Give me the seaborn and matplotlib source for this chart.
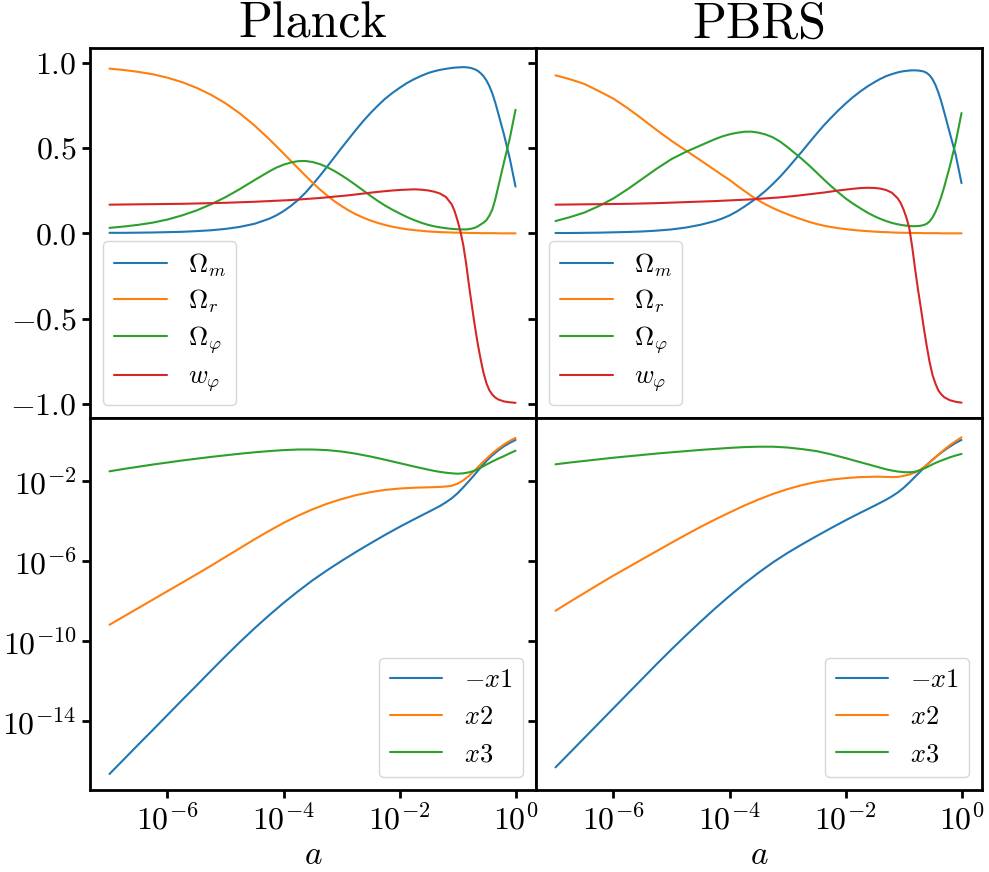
import numpy as np
import matplotlib
matplotlib.use("Agg")
import matplotlib.pyplot as plt
import matplotlib.ticker as mticker
import seaborn as sns

# ---------------- data ----------------
# x positions (log10 a) for the top row
log_a_top = [-7, -6.75, -6.5, -6.25, -6, -5.75, -5.5, -5.25, -5, -4.75, -4.5,
             -4.25, -4.125, -4, -3.875, -3.75, -3.625, -3.5, -3.375, -3.25, -3.125, -3,
             -2.875, -2.75, -2.625, -2.5, -2.375, -2.25, -2.125, -2, -1.875, -1.75, -1.625, -1.5,
             -1.4, -1.3, -1.2, -1.1, -1.05,
             -1.0, -0.95, -0.9, -0.85, -0.8, -0.75, -0.7, -0.65, -0.6, -0.55, -0.5, -0.45, -0.4, -0.35, -0.3,
             -0.2, -0.1, 0]
# x positions (log10 a) for the bottom row
log_a_bottom = [-7, -6.75, -6.5, -6.25, -6, -5.75, -5.5, -5.25, -5, -4.75, -4.5, -4.25,
                -4, -3.75, -3.5, -3.25, -3, -2.75, -2.5, -2.25, -2, -1.75, -1.5,
                -1.4, -1.3, -1.2, -1.1, -1.0, -0.9, -0.8, -0.7, -0.6, -0.5, -0.4,
                -0.3, -0.2, -0.1, 0]

titles = ["Planck", "PBRS"]
top_labels = [r"$\Omega_m$", r"$\Omega_r$", r"$\Omega_\varphi$", r"$w_\varphi$"]
bottom_labels = [r"$-x1$", r"$x2$", r"$x3$"]

planck_omega_m = [0.003, 0.003, 0.004, 0.005, 0.007, 0.009, 0.013, 0.018, 0.026, 0.038, 0.056,
                  0.085, 0.105, 0.130, 0.160, 0.195, 0.237, 0.285, 0.336, 0.390, 0.445, 0.500,
                  0.554, 0.607, 0.658, 0.705, 0.748, 0.788, 0.822, 0.852, 0.880, 0.903, 0.923, 0.940,
                  0.950, 0.958, 0.964, 0.969, 0.971,
                  0.972, 0.973, 0.974, 0.973, 0.971, 0.967, 0.961, 0.952, 0.938, 0.920, 0.895, 0.862, 0.820, 0.767, 0.706,
                  0.580, 0.440, 0.274]
planck_omega_r = [0.965, 0.957, 0.946, 0.932, 0.912, 0.886, 0.853, 0.812, 0.762, 0.702, 0.632,
                  0.553, 0.511, 0.468, 0.425, 0.382, 0.339, 0.297, 0.258, 0.222, 0.189, 0.160,
                  0.134, 0.111, 0.092, 0.075, 0.061, 0.049, 0.039, 0.031, 0.024, 0.019, 0.015, 0.011,
                  0.009, 0.007, 0.006, 0.005, 0.004,
                  0.004, 0.004, 0.003, 0.003, 0.002, 0.002, 0.002, 0.002, 0.001, 0.001, 0.001, 0.001, 0.001, 0.001, 0.0,
                  0.0, 0.0, 0.0]
planck_omega_phi = [0.032, 0.040, 0.050, 0.063, 0.081, 0.105, 0.134, 0.170, 0.212, 0.260, 0.312,
                    0.362, 0.385, 0.402, 0.415, 0.423, 0.424, 0.418, 0.406, 0.388, 0.366, 0.340,
                    0.312, 0.282, 0.251, 0.220, 0.190, 0.163, 0.139, 0.117, 0.096, 0.078, 0.062, 0.049,
                    0.041, 0.035, 0.030, 0.026, 0.025,
                    0.024, 0.023, 0.023, 0.023, 0.025, 0.028, 0.033, 0.041, 0.052, 0.063, 0.078, 0.104, 0.140, 0.198, 0.270,
                    0.415, 0.555, 0.724]
planck_w_phi = [0.168, 0.169, 0.170, 0.171, 0.172, 0.173, 0.175, 0.177, 0.179, 0.182, 0.185,
                0.189, 0.191, 0.193, 0.195, 0.198, 0.201, 0.204, 0.207, 0.211, 0.215, 0.219,
                0.223, 0.228, 0.233, 0.238, 0.243, 0.247, 0.251, 0.254, 0.256, 0.258, 0.256, 0.251,
                0.244, 0.233, 0.213, 0.170, 0.130,
                0.075, 0.012, -0.070, -0.180, -0.310, -0.430, -0.545, -0.650, -0.740, -0.820, -0.880, -0.920, -0.945, -0.962, -0.973,
                -0.985, -0.990, -0.993]

pbrs_omega_m = [0.002, 0.002, 0.003, 0.004, 0.006, 0.008, 0.011, 0.016, 0.023, 0.034, 0.050,
                0.072, 0.087, 0.105, 0.128, 0.155, 0.184, 0.215, 0.250, 0.290, 0.333, 0.380,
                0.430, 0.480, 0.532, 0.583, 0.632, 0.677, 0.720, 0.760, 0.797, 0.830, 0.860, 0.886,
                0.905, 0.921, 0.933, 0.943, 0.947,
                0.950, 0.952, 0.954, 0.955, 0.955, 0.954, 0.952, 0.948, 0.940, 0.926, 0.903, 0.870, 0.826, 0.773, 0.712,
                0.585, 0.460, 0.294]
pbrs_omega_r = [0.926, 0.903, 0.875, 0.833, 0.789, 0.732, 0.669, 0.604, 0.542, 0.485, 0.428,
                0.370, 0.341, 0.313, 0.281, 0.250, 0.220, 0.193, 0.169, 0.148, 0.129, 0.112,
                0.096, 0.081, 0.067, 0.055, 0.045, 0.037, 0.030, 0.025, 0.020, 0.016, 0.013, 0.010,
                0.008, 0.007, 0.005, 0.004, 0.004,
                0.003, 0.003, 0.003, 0.002, 0.002, 0.002, 0.002, 0.001, 0.001, 0.001, 0.001, 0.001, 0.001, 0.0, 0.0,
                0.0, 0.0, 0.0]
pbrs_omega_phi = [0.072, 0.095, 0.122, 0.160, 0.205, 0.260, 0.320, 0.380, 0.435, 0.478, 0.515,
                  0.552, 0.568, 0.580, 0.589, 0.595, 0.596, 0.590, 0.579, 0.562, 0.537, 0.505,
                  0.470, 0.435, 0.397, 0.357, 0.316, 0.277, 0.240, 0.205, 0.175, 0.148, 0.122, 0.100,
                  0.085, 0.072, 0.061, 0.053, 0.050,
                  0.047, 0.045, 0.043, 0.042, 0.042, 0.043, 0.045, 0.049, 0.056, 0.070, 0.093, 0.125, 0.165, 0.214, 0.270,
                  0.395, 0.535, 0.705]
pbrs_w_phi = [0.168, 0.169, 0.170, 0.171, 0.172, 0.173, 0.175, 0.177, 0.180, 0.183, 0.186,
              0.189, 0.191, 0.193, 0.195, 0.197, 0.199, 0.202, 0.205, 0.208, 0.211, 0.215,
              0.219, 0.224, 0.229, 0.234, 0.239, 0.245, 0.251, 0.256, 0.261, 0.265, 0.267, 0.266,
              0.262, 0.254, 0.238, 0.205, 0.178,
              0.140, 0.092, 0.030, -0.080, -0.210, -0.330, -0.440, -0.555, -0.660, -0.755, -0.830, -0.880, -0.920, -0.943, -0.960,
              -0.978, -0.987, -0.992]

# bottom row: log10 of the plotted quantities
planck_log_mx1 = [-16.63, -15.89, -15.15, -14.42, -13.68, -12.94, -12.21, -11.47, -10.74, -10.03, -9.35, -8.70,
                  -8.08, -7.50, -6.95, -6.45, -5.98, -5.53, -5.10, -4.68, -4.28, -3.90, -3.53,
                  -3.38, -3.23, -3.05, -2.85, -2.60, -2.30, -1.98, -1.65, -1.30, -0.98, -0.70,
                  -0.46, -0.25, -0.08, 0.07]
planck_log_x2 = [-9.17, -8.75, -8.33, -7.91, -7.49, -7.07, -6.65, -6.22, -5.78, -5.34, -4.90, -4.48,
                 -4.08, -3.72, -3.40, -3.12, -2.89, -2.69, -2.54, -2.43, -2.36, -2.32, -2.30,
                 -2.29, -2.28, -2.26, -2.22, -2.12, -1.95, -1.72, -1.45, -1.15, -0.87, -0.60,
                 -0.37, -0.16, 0.02, 0.17]
planck_log_x3 = [-1.50, -1.38, -1.27, -1.16, -1.06, -0.96, -0.87, -0.78, -0.70, -0.62, -0.55, -0.49,
                 -0.44, -0.41, -0.41, -0.44, -0.51, -0.62, -0.76, -0.92, -1.09, -1.26, -1.42,
                 -1.48, -1.53, -1.57, -1.60, -1.62, -1.60, -1.55, -1.46, -1.32, -1.16, -1.01,
                 -0.87, -0.74, -0.60, -0.47]

pbrs_log_mx1 = [-16.30, -15.56, -14.82, -14.08, -13.34, -12.60, -11.86, -11.12, -10.40, -9.70, -9.02, -8.36,
                -7.73, -7.13, -6.57, -6.05, -5.58, -5.15, -4.74, -4.34, -3.95, -3.58, -3.22,
                -3.07, -2.92, -2.75, -2.56, -2.33, -2.06, -1.77, -1.48, -1.18, -0.92, -0.68,
                -0.46, -0.26, -0.08, 0.07]
pbrs_log_x2 = [-8.47, -8.02, -7.58, -7.14, -6.71, -6.30, -5.89, -5.48, -5.07, -4.67, -4.28, -3.91,
               -3.56, -3.22, -2.91, -2.63, -2.39, -2.19, -2.03, -1.92, -1.84, -1.79, -1.77,
               -1.77, -1.78, -1.79, -1.78, -1.73, -1.66, -1.56, -1.40, -1.18, -0.93, -0.67,
               -0.42, -0.19, 0.01, 0.20]
pbrs_log_x3 = [-1.15, -1.06, -0.98, -0.90, -0.82, -0.75, -0.68, -0.61, -0.55, -0.49, -0.43, -0.38,
               -0.33, -0.29, -0.27, -0.27, -0.31, -0.39, -0.49, -0.65, -0.84, -1.04, -1.24,
               -1.32, -1.40, -1.46, -1.51, -1.54, -1.55, -1.52, -1.43, -1.30, -1.15, -1.02,
               -0.91, -0.80, -0.71, -0.63]

top_series = [[planck_omega_m, planck_omega_r, planck_omega_phi, planck_w_phi],
              [pbrs_omega_m, pbrs_omega_r, pbrs_omega_phi, pbrs_w_phi]]
bottom_series = [[planck_log_mx1, planck_log_x2, planck_log_x3],
                 [pbrs_log_mx1, pbrs_log_x2, pbrs_log_x3]]

x_ticks = [1e-6, 1e-4, 1e-2, 1e0]
top_yticks = [-1.0, -0.5, 0.0, 0.5, 1.0]
bottom_yticks = [1e-14, 1e-10, 1e-6, 1e-2]

# ---------------- style ----------------
sns.set_theme(style="ticks")
plt.rcParams["font.family"] = "serif"
plt.rcParams["font.serif"] = ["cmr10"]
plt.rcParams["mathtext.fontset"] = "cm"
plt.rcParams["axes.formatter.use_mathtext"] = True
plt.rcParams["axes.unicode_minus"] = True
for key in ["text.color", "axes.labelcolor", "xtick.color", "ytick.color", "axes.edgecolor"]:
    plt.rcParams[key] = "black"

colors = ["#1f77b4", "#ff7f0e", "#2ca02c", "#d62728"]

fig = plt.figure(figsize=(9.89, 8.72), dpi=100)
W, H = 989.0, 872.0
cols_x = [(90, 536), (536, 982)]
rows_y = [(48, 418), (418, 790)]

a_top = 10.0 ** np.array(log_a_top)
a_bottom = 10.0 ** np.array(log_a_bottom)

axes = [[None, None], [None, None]]
for r in range(2):
    for c in range(2):
        x0, x1 = cols_x[c]
        y0, y1 = rows_y[r]
        kw = {}
        if r == 1 or c == 1:
            kw["sharex"] = axes[0][0]
        if c == 1:
            kw["sharey"] = axes[r][0]
        ax = fig.add_axes([x0 / W, 1 - y1 / H, (x1 - x0) / W, (y1 - y0) / H], **kw)
        axes[r][c] = ax

for c in range(2):
    ax = axes[0][c]
    for lab, vals, col in zip(top_labels, top_series[c], colors):
        sns.lineplot(x=a_top, y=np.array(vals), ax=ax, color=col, label=lab,
                     linewidth=1.5, sort=False, errorbar=None)
    ax.legend(loc="lower left", fontsize=19, labelspacing=0.34)
    ax.set_title(titles[c], fontsize=36, pad=6, color="black")

    ax = axes[1][c]
    for lab, vals, col in zip(bottom_labels, bottom_series[c], colors[:3]):
        sns.lineplot(x=a_bottom, y=10.0 ** np.array(vals), ax=ax, color=col, label=lab,
                     linewidth=1.5, sort=False, errorbar=None)
    ax.legend(loc="lower right", fontsize=19)
    ax.set_xlabel(r"$a$", fontsize=24, color="black")

for r in range(2):
    for c in range(2):
        ax = axes[r][c]
        for s in ax.spines.values():
            s.set_linewidth(2)
            s.set_visible(True)
            s.set_color("black")
        ax.tick_params(axis="both", which="major", direction="out", length=6, width=2,
                       labelsize=23, color="black", labelcolor="black")
        ax.tick_params(axis="both", which="minor", length=0)
        ax.set_ylabel("")
        if r == 0:
            ax.tick_params(axis="x", bottom=False, labelbottom=False)
            ax.set_xlabel("")
        if c == 1:
            ax.tick_params(axis="y", labelleft=False)

ax0 = axes[0][0]
ax0.set_xscale("log")
ax0.set_xlim(10 ** -7.336, 10 ** 0.353)
ax0.set_xticks(x_ticks)
ax0.xaxis.set_minor_locator(mticker.NullLocator())

axes[0][0].set_ylim(-1.082, 1.086)
axes[0][0].set_yticks(top_yticks)

axes[1][0].set_yscale("log")
axes[1][0].set_ylim(10 ** -17.43, 10 ** 1.165)
axes[1][0].set_yticks(bottom_yticks)
axes[1][0].yaxis.set_minor_locator(mticker.NullLocator())
axes[1][0].xaxis.set_minor_locator(mticker.NullLocator())

fig.savefig("out.png", dpi=100)
